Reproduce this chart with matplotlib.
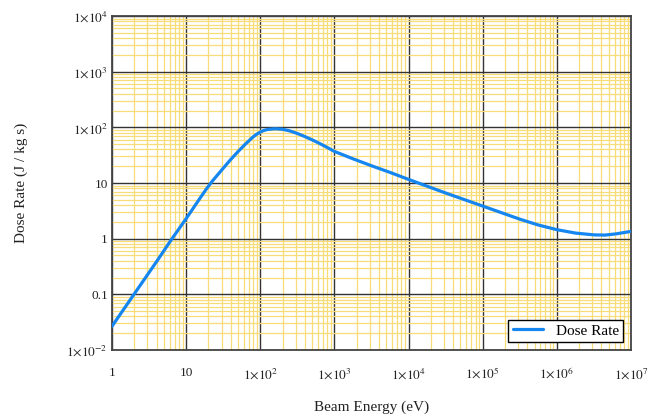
import matplotlib
matplotlib.use("Agg")
import matplotlib.pyplot as plt
import numpy as np
from matplotlib.ticker import FuncFormatter, LogLocator, NullFormatter

plt.rcParams['font.family'] = ['Liberation Serif', 'DejaVu Serif']
plt.rcParams['mathtext.fontset'] = 'stix'

# beam energy (eV) and dose rate (J / kg s)
energy = [1, 2, 4, 6.3, 10, 15.8, 18.8, 22.4, 31.6, 39.8, 50.1, 63.1, 79.4,
          89.1, 100, 112, 126, 158, 200, 251, 316, 398, 501, 631, 794, 1000,
          1780, 3160, 5620, 10000, 31600, 100000, 316000, 562000, 1000000,
          1780000, 3160000, 4470000, 6310000, 10000000]
dose = [0.0267, 0.102, 0.389, 0.955, 2.29, 5.62, 7.85, 10.7, 18.4, 26.3,
        36.7, 50.1, 66.8, 75.0, 82.2, 88.1, 91.6, 94.4, 92.3, 86.1, 77.6,
        68.4, 59.6, 51.3, 43.7, 36.9, 27.2, 20.4, 15.5, 11.6, 6.61, 3.85,
        2.24, 1.76, 1.45, 1.26, 1.17, 1.16, 1.22, 1.35]


def sci_label(v, pos):
    if v in (1, 10, 0.1):
        return f"{v:g}"
    exp = int(round(np.log10(v)))
    sign = '-' if exp < 0 else ''
    return r"$1{\times}10^{%s%d}$" % (sign, abs(exp))


fig = plt.figure(figsize=(6.48, 4.16), dpi=100)
ax = fig.add_axes([112 / 648, 1 - 350 / 416, 519 / 648, 334 / 416])

ax.plot(energy, dose, color='#1585f0', lw=2.3, label='Dose Rate',
        solid_joinstyle='round', solid_capstyle='round', zorder=3)

ax.set_xscale('log')
ax.set_yscale('log')
ax.set_xlim(1, 1e7)
ax.set_ylim(1e-2, 1e4)

ax.xaxis.set_major_locator(LogLocator(base=10, numticks=20))
ax.yaxis.set_major_locator(LogLocator(base=10, numticks=20))
ax.xaxis.set_minor_locator(LogLocator(base=10, subs=np.arange(2, 10), numticks=20))
ax.yaxis.set_minor_locator(LogLocator(base=10, subs=np.arange(2, 10), numticks=20))
ax.xaxis.set_major_formatter(FuncFormatter(sci_label))
ax.yaxis.set_major_formatter(FuncFormatter(sci_label))
ax.xaxis.set_minor_formatter(NullFormatter())
ax.yaxis.set_minor_formatter(NullFormatter())

ax.grid(True, which='minor', color='#f8dc78', lw=0.9, zorder=0)
ax.grid(True, which='major', color='#333333', lw=1.0, zorder=1)
ax.set_axisbelow(True)

ax.tick_params(which='both', length=0)
ax.tick_params(axis='x', pad=12, labelsize=9.5, colors='#222222')
ax.tick_params(axis='y', pad=3, labelsize=9.5, colors='#222222')
for s in ax.spines.values():
    s.set_color('#444444')
    s.set_linewidth(1.3)

ax.set_xlabel('Beam Energy (eV)', fontsize=11, labelpad=13, color='#222222')
ax.set_ylabel('Dose Rate (J / kg s)', fontsize=11, labelpad=28, color='#222222')

leg = ax.legend(loc='lower right', fontsize=11, fancybox=False,
                edgecolor='black', framealpha=1, borderaxespad=0.5,
                handlelength=2.0, borderpad=0.3)
leg.get_frame().set_linewidth(1.0)

fig.savefig('out.png', dpi=100)
